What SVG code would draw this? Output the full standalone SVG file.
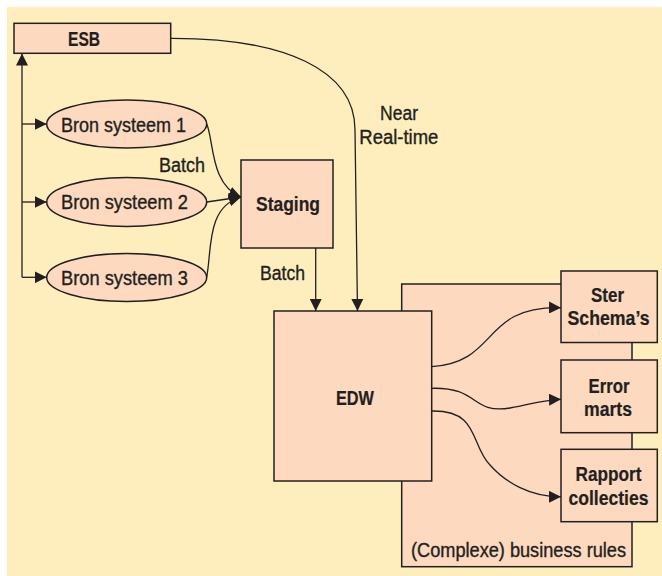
<svg xmlns="http://www.w3.org/2000/svg" width="662" height="576" viewBox="0 0 662 576">
<style>
.box{fill:#FCD9BF;stroke:#231F20;stroke-width:1.5}
.ln{fill:none;stroke:#231F20;stroke-width:1.3}
.t{font-family:"Liberation Sans",Arial,sans-serif;font-size:19.5px;fill:#231F20;stroke:#231F20;stroke-width:0.35}
.b{font-weight:bold;stroke-width:0.2}
</style>
<defs>
<marker id="ah" markerUnits="userSpaceOnUse" markerWidth="12" markerHeight="12" refX="11" refY="5.5" orient="auto" viewBox="0 0 11 11">
<path d="M0,0 L11,5.5 L0,11 z" fill="#231F20"/>
</marker>
</defs>
<rect x="7" y="7" width="655" height="569" fill="#FEEEBE"/>
<g id="business-rules">
<rect class="box" x="401.7" y="284" width="230.3" height="282.7"/>
<text class="t" x="411" y="556.5" textLength="215" lengthAdjust="spacingAndGlyphs">(Complexe) business rules</text>
</g>
<g id="esb">
<rect class="box" x="14" y="23.3" width="156.7" height="30"/>
<text class="t b" x="68" y="45.5" textLength="32" lengthAdjust="spacingAndGlyphs">ESB</text>
</g>
<g id="bron1">
<ellipse class="box" cx="126.7" cy="124" rx="80" ry="24"/>
<text class="t" x="61" y="131.5" textLength="125" lengthAdjust="spacingAndGlyphs">Bron systeem 1</text>
</g>
<g id="bron2">
<ellipse class="box" cx="126.7" cy="202" rx="80" ry="24.5"/>
<text class="t" x="61" y="209" textLength="127" lengthAdjust="spacingAndGlyphs">Bron systeem 2</text>
</g>
<g id="bron3">
<ellipse class="box" cx="126.7" cy="277.5" rx="80" ry="24"/>
<text class="t" x="61" y="285" textLength="127" lengthAdjust="spacingAndGlyphs">Bron systeem 3</text>
</g>
<g id="staging">
<rect class="box" x="241" y="160" width="92" height="88"/>
<text class="t b" x="256" y="211" textLength="64" lengthAdjust="spacingAndGlyphs">Staging</text>
</g>
<g id="edw">
<rect class="box" x="274" y="311" width="157.7" height="170"/>
<text class="t b" x="336" y="405" textLength="38" lengthAdjust="spacingAndGlyphs">EDW</text>
</g>
<g id="ster">
<rect class="box" x="561" y="271" width="96.3" height="71.5"/>
<text class="t b" x="591" y="302" textLength="33" lengthAdjust="spacingAndGlyphs">Ster</text>
<text class="t b" x="567.5" y="325" textLength="82" lengthAdjust="spacingAndGlyphs">Schema’s</text>
</g>
<g id="error">
<rect class="box" x="561" y="360" width="96.3" height="72.7"/>
<text class="t b" x="588.5" y="393" textLength="41" lengthAdjust="spacingAndGlyphs">Error</text>
<text class="t b" x="584" y="415.5" textLength="48" lengthAdjust="spacingAndGlyphs">marts</text>
</g>
<g id="rapport">
<rect class="box" x="561" y="449.3" width="96.3" height="72.4"/>
<text class="t b" x="575.5" y="480.5" textLength="66" lengthAdjust="spacingAndGlyphs">Rapport</text>
<text class="t b" x="568.5" y="504.5" textLength="80" lengthAdjust="spacingAndGlyphs">collecties</text>
</g>
<g id="connectors">
<path class="ln" d="M22,277.3 L22,53.5" marker-end="url(#ah)"/>
<path class="ln" d="M22,124 L46.7,124" marker-end="url(#ah)"/>
<path class="ln" d="M22,202 L46.7,202" marker-end="url(#ah)"/>
<path class="ln" d="M22,277.3 L46.7,277.3" marker-end="url(#ah)"/>
<path class="ln" d="M206.7,124 C 214,140 210,185 241,197" marker-end="url(#ah)"/>
<path class="ln" d="M206.7,202 L241,197" marker-end="url(#ah)"/>
<path class="ln" d="M206.7,277 C 212,250 206,207 241,197" marker-end="url(#ah)"/>
<path class="ln" d="M315.7,248 L315.7,311" marker-end="url(#ah)"/>
<path class="ln" d="M170.7,38.3 C 285,38 355,70 355,130 L357.5,311" marker-end="url(#ah)"/>
<path class="ln" d="M431.7,366.7 C 500,362 480,306 561,307.7" marker-end="url(#ah)"/>
<path class="ln" d="M431.7,388.3 C 480,387 470,414 510,408 C 530,405 540,400 561,399.3" marker-end="url(#ah)"/>
<path class="ln" d="M431.7,411 C 480,410 470,445 490,465 C 505,482 530,497 561,496.7" marker-end="url(#ah)"/>
</g>
<text class="t" x="380" y="120" textLength="38" lengthAdjust="spacingAndGlyphs">Near</text>
<text class="t" x="359.3" y="144" textLength="79" lengthAdjust="spacingAndGlyphs">Real-time</text>
<text class="t" x="159" y="171.5" textLength="46" lengthAdjust="spacingAndGlyphs">Batch</text>
<text class="t" x="260" y="279.5" textLength="45" lengthAdjust="spacingAndGlyphs">Batch</text>
</svg>
